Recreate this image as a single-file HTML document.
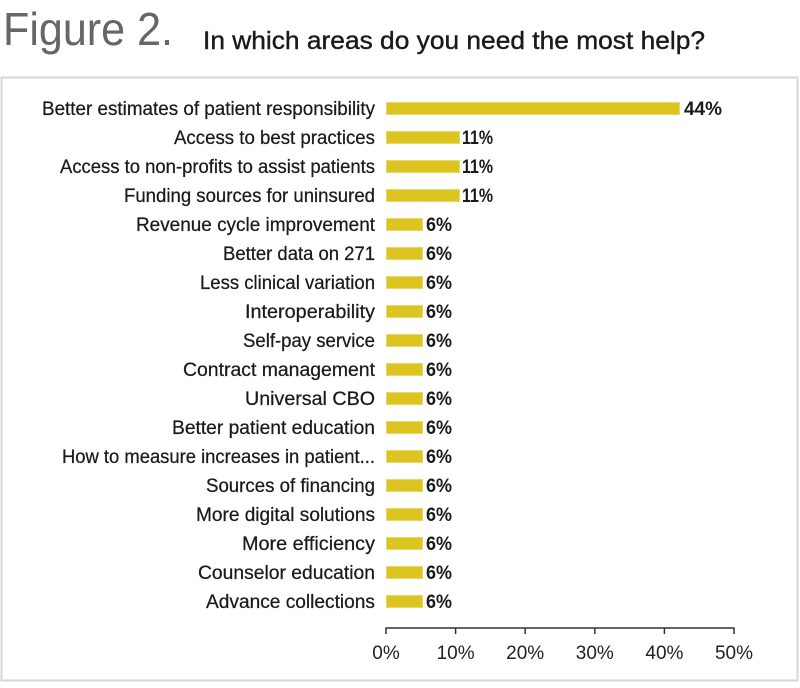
<!DOCTYPE html>
<html><head><meta charset="utf-8"><style>
html,body{margin:0;padding:0;background:#fff;}
svg{display:block;}
text{font-family:"Liberation Sans",sans-serif;}
</style></head><body>
<svg width="800" height="688" viewBox="0 0 800 688" xmlns="http://www.w3.org/2000/svg">
<rect x="0" y="0" width="800" height="688" fill="#fff"/>
<text x="3" y="45" font-size="46" fill="#666" textLength="170" lengthAdjust="spacingAndGlyphs">Figure 2.</text>
<text x="203" y="49" font-size="25" fill="#1a1a1a" stroke="#1a1a1a" stroke-width="0.4" textLength="502" lengthAdjust="spacingAndGlyphs">In which areas do you need the most help?</text>
<rect x="1.5" y="77.5" width="796" height="603" fill="#fff" stroke="#d6d6d6" stroke-width="2"/>
<g font-size="19" fill="#1a1a1a" stroke="#1a1a1a" stroke-width="0.25" text-anchor="end">
<text x="375" y="115" textLength="333" lengthAdjust="spacingAndGlyphs">Better estimates of patient responsibility</text>
<text x="375" y="144" textLength="201" lengthAdjust="spacingAndGlyphs">Access to best practices</text>
<text x="375" y="173" textLength="315" lengthAdjust="spacingAndGlyphs">Access to non-profits to assist patients</text>
<text x="375" y="202" textLength="251" lengthAdjust="spacingAndGlyphs">Funding sources for uninsured</text>
<text x="375" y="231" textLength="239" lengthAdjust="spacingAndGlyphs">Revenue cycle improvement</text>
<text x="375" y="260" textLength="152" lengthAdjust="spacingAndGlyphs">Better data on 271</text>
<text x="375" y="289" textLength="175" lengthAdjust="spacingAndGlyphs">Less clinical variation</text>
<text x="375" y="318" textLength="130" lengthAdjust="spacingAndGlyphs">Interoperability</text>
<text x="375" y="347" textLength="132" lengthAdjust="spacingAndGlyphs">Self-pay service</text>
<text x="375" y="376" textLength="192" lengthAdjust="spacingAndGlyphs">Contract management</text>
<text x="375" y="405" textLength="130" lengthAdjust="spacingAndGlyphs">Universal CBO</text>
<text x="375" y="434" textLength="203" lengthAdjust="spacingAndGlyphs">Better patient education</text>
<text x="375" y="463" textLength="313" lengthAdjust="spacingAndGlyphs">How to measure increases in patient...</text>
<text x="375" y="492" textLength="169" lengthAdjust="spacingAndGlyphs">Sources of financing</text>
<text x="375" y="521" textLength="179" lengthAdjust="spacingAndGlyphs">More digital solutions</text>
<text x="375" y="550" textLength="133" lengthAdjust="spacingAndGlyphs">More efficiency</text>
<text x="375" y="579" textLength="177" lengthAdjust="spacingAndGlyphs">Counselor education</text>
<text x="375" y="608" textLength="169" lengthAdjust="spacingAndGlyphs">Advance collections</text>
</g>
<g fill="#dcc520" stroke="#e8d868" stroke-width="1">
<rect x="386.5" y="102.5" width="293" height="12"/>
<rect x="386.5" y="131.5" width="73" height="12"/>
<rect x="386.5" y="160.5" width="73" height="12"/>
<rect x="386.5" y="189.5" width="73" height="12"/>
<rect x="386.5" y="218.5" width="36" height="12"/>
<rect x="386.5" y="247.5" width="36" height="12"/>
<rect x="386.5" y="276.5" width="36" height="12"/>
<rect x="386.5" y="305.5" width="36" height="12"/>
<rect x="386.5" y="334.5" width="36" height="12"/>
<rect x="386.5" y="363.5" width="36" height="12"/>
<rect x="386.5" y="392.5" width="36" height="12"/>
<rect x="386.5" y="421.5" width="36" height="12"/>
<rect x="386.5" y="450.5" width="36" height="12"/>
<rect x="386.5" y="479.5" width="36" height="12"/>
<rect x="386.5" y="508.5" width="36" height="12"/>
<rect x="386.5" y="537.5" width="36" height="12"/>
<rect x="386.5" y="566.5" width="36" height="12"/>
<rect x="386.5" y="595.5" width="36" height="12"/>
</g>
<g font-size="19" font-weight="bold" fill="#1a1a1a">
<text x="684" y="115" textLength="38" lengthAdjust="spacingAndGlyphs">44%</text>
<text x="462" y="144" textLength="31" lengthAdjust="spacingAndGlyphs">11%</text>
<text x="462" y="173" textLength="31" lengthAdjust="spacingAndGlyphs">11%</text>
<text x="462" y="202" textLength="31" lengthAdjust="spacingAndGlyphs">11%</text>
<text x="426" y="231" textLength="26" lengthAdjust="spacingAndGlyphs">6%</text>
<text x="426" y="260" textLength="26" lengthAdjust="spacingAndGlyphs">6%</text>
<text x="426" y="289" textLength="26" lengthAdjust="spacingAndGlyphs">6%</text>
<text x="426" y="318" textLength="26" lengthAdjust="spacingAndGlyphs">6%</text>
<text x="426" y="347" textLength="26" lengthAdjust="spacingAndGlyphs">6%</text>
<text x="426" y="376" textLength="26" lengthAdjust="spacingAndGlyphs">6%</text>
<text x="426" y="405" textLength="26" lengthAdjust="spacingAndGlyphs">6%</text>
<text x="426" y="434" textLength="26" lengthAdjust="spacingAndGlyphs">6%</text>
<text x="426" y="463" textLength="26" lengthAdjust="spacingAndGlyphs">6%</text>
<text x="426" y="492" textLength="26" lengthAdjust="spacingAndGlyphs">6%</text>
<text x="426" y="521" textLength="26" lengthAdjust="spacingAndGlyphs">6%</text>
<text x="426" y="550" textLength="26" lengthAdjust="spacingAndGlyphs">6%</text>
<text x="426" y="579" textLength="26" lengthAdjust="spacingAndGlyphs">6%</text>
<text x="426" y="608" textLength="26" lengthAdjust="spacingAndGlyphs">6%</text>
</g>
<g stroke="#333" stroke-width="1.5" fill="none">
<line x1="386" y1="628" x2="734" y2="628"/>
<line x1="386" y1="627.5" x2="386" y2="634"/>
<line x1="455.6" y1="627.5" x2="455.6" y2="634"/>
<line x1="525.2" y1="627.5" x2="525.2" y2="634"/>
<line x1="594.8" y1="627.5" x2="594.8" y2="634"/>
<line x1="664.4" y1="627.5" x2="664.4" y2="634"/>
<line x1="734" y1="627.5" x2="734" y2="634"/>
</g>
<g font-size="19" fill="#222" text-anchor="middle">
<text x="386" y="659">0%</text>
<text x="455.6" y="659">10%</text>
<text x="525.2" y="659">20%</text>
<text x="594.8" y="659">30%</text>
<text x="664.4" y="659">40%</text>
<text x="734" y="659">50%</text>
</g>
</svg>
</body></html>
